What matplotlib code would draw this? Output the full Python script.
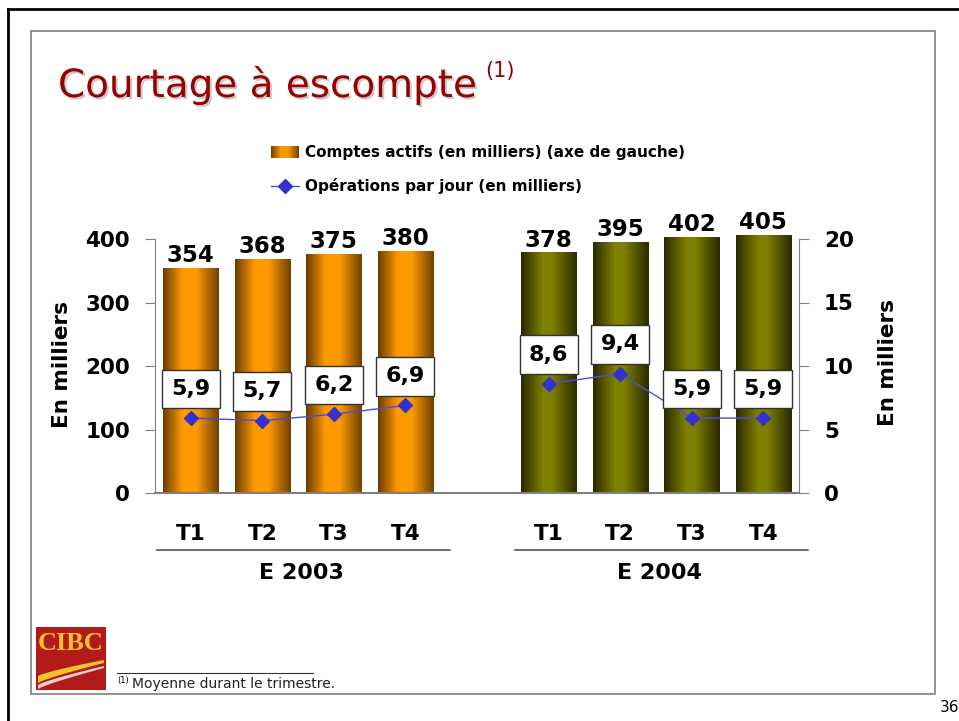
import numpy as np
import matplotlib
matplotlib.use('Agg')
import matplotlib.pyplot as plt
from matplotlib.colors import LinearSegmentedColormap
from matplotlib.patches import Rectangle, Polygon
from matplotlib.lines import Line2D
import matplotlib.patheffects as pe

# data
quarters = ['T1', 'T2', 'T3', 'T4']
years = ['E 2003', 'E 2004']
comptes = [[354, 368, 375, 380], [378, 395, 402, 405]]
operations = [[5.9, 5.7, 6.2, 6.9], [8.6, 9.4, 5.9, 5.9]]

W, H = 959, 721
plt.rcParams['font.family'] = 'DejaVu Sans'


def fx(px):
    return px / W


def fy(py):
    return 1 - py / H


orange_cmap = LinearSegmentedColormap.from_list(
    'orange', [(0, '#6a3d00'), (0.35, '#ff9900'), (0.6, '#ff9900'), (1, '#6e4200')])
olive_cmap = LinearSegmentedColormap.from_list(
    'olive', [(0, '#2a2a00'), (0.4, '#808000'), (0.55, '#808000'), (1, '#2a2a00')])
grad = np.linspace(0, 1, 256).reshape(1, -1)

fig = plt.figure(figsize=(W / 100, H / 100), dpi=100)

# slide frames
fig.add_artist(Line2D([fx(8), fx(8)], [fy(9), 0], transform=fig.transFigure, color='black', lw=2))
fig.add_artist(Line2D([fx(8), 1], [fy(9), fy(9)], transform=fig.transFigure, color='black', lw=2))
fig.add_artist(Rectangle((fx(31), fy(694)), fx(935) - fx(31), fy(31) - fy(694),
                         transform=fig.transFigure, fill=False, ec='#808080', lw=1.2))
fig.text(fx(940), fy(708), '36', fontsize=11, va='center', ha='left')

# title
title = fig.text(fx(58), fy(97), 'Courtage à escompte', fontsize=28, color='#990000',
                 va='baseline', ha='left',
                 path_effects=[pe.withSimplePatchShadow(offset=(1.5, -1.5), shadow_rgbFace='#999999', alpha=0.5)])
fig.canvas.draw()
bb = title.get_window_extent()
fig.text(bb.x1 / W + fx(9), fy(71), '(1)', fontsize=15, color='#990000', va='center', ha='left')

# main axes
ax = fig.add_axes([fx(155), fy(493), fx(799) - fx(155), fy(239) - fy(493)])
ax2 = ax.twinx()
ax.set_zorder(1)
ax2.set_zorder(2)
ax.patch.set_visible(False)

cmaps = [orange_cmap, olive_cmap]
for g, year in enumerate(years):
    pos = [g * 5 + i for i in range(len(quarters))]
    bars = ax.bar(pos, comptes[g], width=0.77, color='none', edgecolor='none')
    for b, v in zip(bars, comptes[g]):
        im = ax.imshow(grad, extent=[b.get_x(), b.get_x() + b.get_width(), 0, b.get_height()],
                       aspect='auto', cmap=cmaps[g], zorder=2)
        im.set_clip_on(False)
        ax.annotate(str(v), (b.get_x() + b.get_width() / 2, b.get_height()),
                    xytext=(0, 1), textcoords='offset points', ha='center', va='bottom',
                    fontsize=16.5, fontweight='bold', annotation_clip=False)
    ax2.plot(pos, operations[g], color='#4d4ddb', lw=1, marker='D', markersize=7,
             markerfacecolor='#3333cc', markeredgecolor='#3333cc', zorder=3)
    for p, v in zip(pos, operations[g]):
        ax2.annotate(f'{v:.1f}'.replace('.', ','), (p, v), xytext=(0, 21), textcoords='offset points',
                     ha='center', va='center', fontsize=16, fontweight='bold', zorder=4,
                     bbox=dict(boxstyle='square,pad=0.42', fc='white', ec='#333333', lw=1))
    # group labels
    ax.plot([g * 5 - 0.47, g * 5 + 3.62], [-0.224, -0.224], color='#555555', lw=1.2,
            transform=ax.get_xaxis_transform(), clip_on=False)
    ax.text(g * 5 + 1.55, -0.315, year, transform=ax.get_xaxis_transform(),
            ha='center', va='center', fontsize=16, fontweight='bold')

ax.set_xlim(-0.5, 8.5)
ax.set_ylim(0, 400)
ax2.set_ylim(0, 20)
ax.set_xticks([g * 5 + i for g in range(2) for i in range(4)])
ax.set_xticklabels(quarters * 2, fontsize=15.5, fontweight='bold')
ax.tick_params(axis='x', length=0, pad=22)
ax.set_yticks([0, 100, 200, 300, 400])
ax.set_yticklabels(['0', '100', '200', '300', '400'], fontsize=15.5, fontweight='bold')
ax.tick_params(axis='y', direction='out', length=7, color='#808080', pad=11)
ax2.set_yticks([0, 5, 10, 15, 20])
ax2.set_yticklabels(['0', '5', '10', '15', '20'], fontsize=15.5, fontweight='bold')
ax2.tick_params(axis='y', direction='out', length=7, color='#808080', pad=11)
for a in (ax, ax2):
    a.spines['top'].set_visible(False)
    for s in ('left', 'right', 'bottom'):
        a.spines[s].set_color('#808080')
ax.spines['right'].set_visible(False)
ax2.spines['left'].set_visible(False)
ax2.spines['bottom'].set_visible(False)
ax.spines['bottom'].set_linewidth(1.5)

fig.text(fx(62), fy(365), 'En milliers', rotation=90, fontsize=15.5, fontweight='bold', ha='center', va='center')
fig.text(fx(888), fy(363), 'En milliers', rotation=90, fontsize=15.5, fontweight='bold', ha='center', va='center')

# legend
lax = fig.add_axes([fx(271), fy(158), fx(299) - fx(271), fy(146) - fy(158)])
lax.imshow(grad, aspect='auto', cmap=orange_cmap)
lax.axis('off')
fig.text(fx(305), fy(152), 'Comptes actifs (en milliers) (axe de gauche)', fontsize=11,
         fontweight='bold', va='center', ha='left')
fig.add_artist(Line2D([fx(271), fx(299)], [fy(186), fy(186)], transform=fig.transFigure,
                      color='#4d4ddb', lw=1))
fig.add_artist(Line2D([fx(285)], [fy(186)], transform=fig.transFigure, marker='D', markersize=7,
                      color='#3333cc', lw=0))
fig.text(fx(305), fy(186), 'Opérations par jour (en milliers)', fontsize=11,
         fontweight='bold', va='center', ha='left')

# CIBC logo
fig.add_artist(Rectangle((fx(36), fy(690)), fx(106) - fx(36), fy(627) - fy(690),
                         transform=fig.transFigure, color='#b31b1b', lw=0))
fig.text(fx(71), fy(644), 'CIBC', fontsize=19, family='Liberation Serif', fontweight='bold',
         color='#f2c230', ha='center', va='center')
t = np.linspace(0, 1, 30)
xs = 38 + 66 * t
y_top = 676 - 16 * t ** 0.8
fig.add_artist(Polygon(np.column_stack([fx(np.r_[xs, xs[::-1]]),
                                        fy(np.r_[y_top, (y_top + 7 - 4 * t)[::-1]])]),
                       closed=True, transform=fig.transFigure, color='#f2c230', lw=0))
y_w = y_top + 9 - 3 * t
fig.add_artist(Polygon(np.column_stack([fx(np.r_[xs, xs[::-1]]),
                                        fy(np.r_[y_w, (y_w + 4 - 2 * t)[::-1]])]),
                       closed=True, transform=fig.transFigure, color='#f5d0d0', lw=0))

# footnote
fig.add_artist(Line2D([fx(117), fx(313)], [fy(673), fy(673)], transform=fig.transFigure,
                      color='#333333', lw=0.8))
fig.text(fx(117), fy(681), '(1)', fontsize=6, va='center', ha='left')
fig.text(fx(132), fy(684), 'Moyenne durant le trimestre.', fontsize=10, va='center', ha='left',
         color='#222222')

fig.savefig('out.png', dpi=100)
